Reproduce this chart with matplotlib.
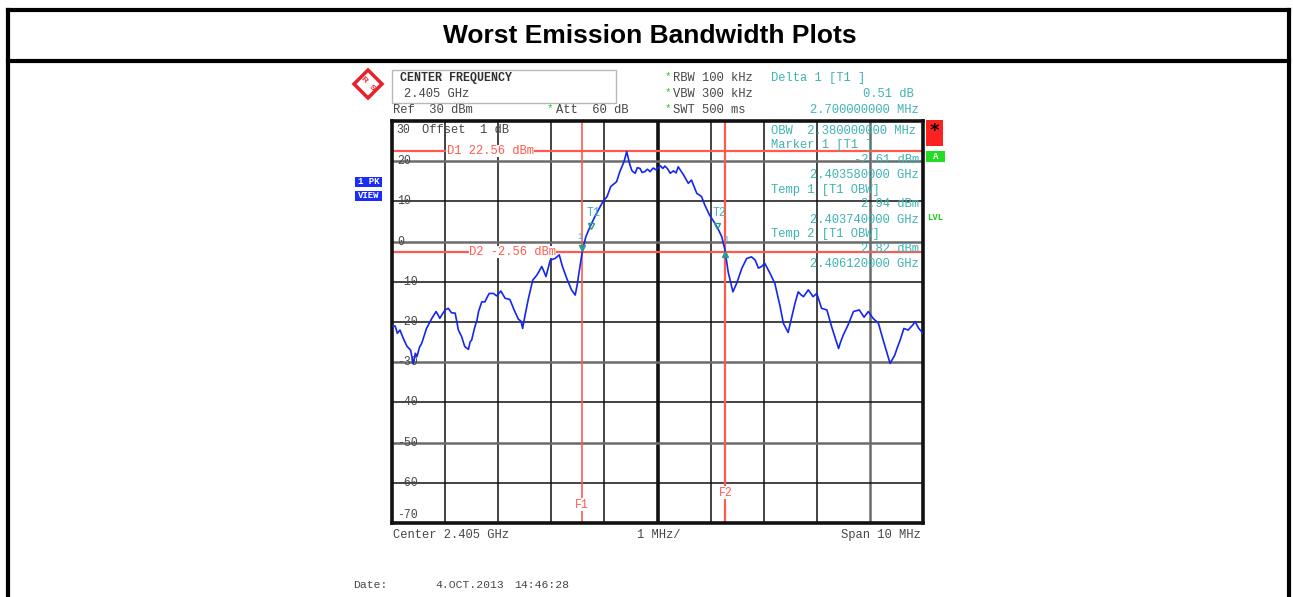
import matplotlib.pyplot as plt
from matplotlib.patches import Rectangle, Polygon
import numpy as np

W, H = 1293, 597

# trace (offset from 2.400 GHz in MHz, level in dBm)
freq_offset = [0.00, 0.06, 0.10, 0.15, 0.21, 0.28, 0.35, 0.40, 0.44, 0.47, 0.52, 0.56, 0.65, 0.75, 0.83,
               0.87, 0.90, 0.95, 1.00, 1.06, 1.12, 1.19, 1.25, 1.31, 1.37, 1.44, 1.47, 1.50, 1.56,
               1.60, 1.63, 1.69, 1.75, 1.79, 1.83, 1.91, 1.97, 2.05, 2.13, 2.22, 2.30, 2.38, 2.43,
               2.46, 2.50, 2.57, 2.65, 2.73, 2.82, 2.86, 2.90, 2.98, 3.07, 3.15, 3.21, 3.29, 3.38,
               3.45, 3.49, 3.51, 3.55, 3.59, 3.65, 3.73, 3.82, 3.89, 3.97, 4.05, 4.12, 4.23, 4.29,
               4.37, 4.42, 4.48, 4.52, 4.58, 4.62, 4.67, 4.71, 4.76, 4.81, 4.86, 4.92, 4.98, 5.05,
               5.10, 5.14, 5.19, 5.24, 5.30, 5.35, 5.39, 5.49, 5.58, 5.64, 5.74, 5.83, 5.89, 5.98,
               6.06, 6.15, 6.21, 6.27, 6.33, 6.42, 6.49, 6.59, 6.68, 6.77, 6.84, 6.90, 6.96, 7.02,
               7.12, 7.21, 7.31, 7.37, 7.46, 7.53, 7.59, 7.65, 7.70, 7.75, 7.84, 7.93, 8.00, 8.09,
               8.19, 8.28, 8.41, 8.45, 8.50, 8.59, 8.69, 8.80, 8.89, 8.97, 9.06, 9.16, 9.25, 9.38,
               9.47, 9.51, 9.57, 9.64, 9.72, 9.81, 9.85, 9.92, 10.00]
level_dbm = [-21.0, -21.0, -22.8, -22.0, -24.0, -26.0, -27.0, -30.3, -27.8, -28.6, -26.2, -25.3, -21.6, -19.1, -17.4,
             -18.3, -19.1, -18.0, -17.0, -16.6, -17.7, -17.8, -22.0, -23.6, -26.1, -26.8, -25.0, -24.5, -21.2,
             -19.6, -17.4, -15.0, -15.0, -13.9, -12.9, -12.9, -13.5, -12.3, -14.1, -14.4, -17.0, -19.3, -19.8,
             -21.6, -18.7, -14.1, -9.6, -8.3, -6.2, -7.4, -8.7, -4.6, -4.2, -3.3, -6.2, -9.1, -12.0,
             -13.3, -10.6, -8.7, -5.4, -2.0, 1.2, 3.7, 6.2, 7.9, 9.9, 11.2, 13.7, 14.9, 17.4,
             19.9, 22.4, 19.1, 17.6, 17.0, 18.4, 18.2, 17.2, 17.4, 18.0, 17.4, 18.3, 17.8, 18.9,
             18.2, 18.8, 18.1, 17.0, 17.6, 17.1, 18.6, 16.6, 14.5, 15.3, 12.0, 11.2, 9.1, 6.6,
             5.0, 2.9, 1.2, -2.0, -7.5, -12.5, -10.4, -6.6, -4.2, -3.8, -4.6, -6.6, -6.2, -5.4,
             -7.9, -10.4, -16.2, -20.3, -22.6, -18.7, -15.3, -12.5, -13.2, -13.7, -12.0, -13.7, -12.9, -16.6,
             -17.0, -21.2, -26.6, -24.9, -23.2, -20.7, -17.4, -17.0, -18.8, -17.4, -19.1, -20.3, -24.5, -30.3,
             -28.2, -26.6, -24.5, -21.6, -22.0, -20.7, -19.9, -21.6, -22.8]

start_mhz = 2400.0
span_mhz = 10.0
ref_level = 30
y_grid = [20, 10, 0, -10, -20, -30, -40, -50, -60]
y_labels = ["30", "20", "10", "0", "-10", "-20", "-30", "-40", "-50", "-60", "-70"]
y_label_pos = [27.8, 20, 10, 0, -10, -20, -30, -40, -50, -60, -68]
d1_level, d2_level = 22.56, -2.56
f1_mhz, f2_mhz = 2403.58, 2406.28
marker_f = [2403.58, 2403.74, 2406.12, 2406.28]
marker_lv = [-2.61, 2.94, 2.82, -2.6]

mono = "Liberation Mono"
teal = "#3fb3b3"
red_ln = "#ff5a50"
grey_tx = "#474747"

fig = plt.figure(figsize=(W / 100, H / 100), dpi=100)
fig.patch.set_facecolor("white")

# spectrum screen
ax = fig.add_axes([392 / W, (H - 523) / H, 531 / W, 402 / H])
x = start_mhz + np.array(freq_offset)
ax.set_xlim(start_mhz, start_mhz + span_mhz)
ax.set_ylim(-70, ref_level)
ax.set_xticks([])
ax.set_yticks([])
for s in ax.spines.values():
    s.set_linewidth(2.6)
    s.set_color("#111111")

for i, g in enumerate(np.arange(1, 10) + start_mhz):
    if i == 4:
        ax.axvline(g, color="#111111", lw=2.6, zorder=1)
    elif i == 8:
        ax.axvline(g, color="#6b6b6b", lw=1.8, zorder=1)
    else:
        ax.axvline(g, color="#111111", lw=1.1, zorder=1)
for g in y_grid:
    if g in (20, 0, -30, -50):
        ax.axhline(g, color="#6b6b6b", lw=1.8, zorder=1)
    else:
        ax.axhline(g, color="#111111", lw=1.1, zorder=1)

for lab, yp in zip(y_labels, y_label_pos):
    ax.text(start_mhz + 0.09, yp, lab, family=mono, fontsize=8.3, color=grey_tx,
            va="center", ha="left", zorder=3)
ax.text(start_mhz + 0.57, 27.8, "Offset  1 dB", family=mono, fontsize=8.7, color=grey_tx,
        va="center", ha="left", zorder=3)

# display lines and frequency lines
ax.axhline(d1_level, color=red_ln, lw=1.6, zorder=2)
ax.axhline(d2_level, color=red_ln, lw=1.6, zorder=2)
ax.axvline(f1_mhz, color=red_ln, lw=1.2, zorder=2)
ax.axvline(f2_mhz, color=red_ln, lw=1.6, zorder=2)
wb = dict(facecolor="white", edgecolor="none", pad=0.3)
ax.text(2401.03, d1_level, "D1 22.56 dBm", family=mono, fontsize=8.7, color=red_ln,
        va="center", ha="left", bbox=wb, zorder=3)
ax.text(2401.45, d2_level, "D2 -2.56 dBm", family=mono, fontsize=8.7, color=red_ln,
        va="center", ha="left", bbox=wb, zorder=3)
ax.text(f1_mhz, -65.4, "F1", family=mono, fontsize=8.3, color=red_ln,
        va="center", ha="center", bbox=wb, zorder=3)
ax.text(f2_mhz, -62.5, "F2", family=mono, fontsize=8.3, color=red_ln,
        va="center", ha="center", bbox=wb, zorder=3)

ax.plot(x, level_dbm, color="#1426f0", lw=1.2, zorder=4)

# markers
ax.plot(marker_f[0], marker_lv[0] + 1.0, marker="v", ms=5, color="#2f9a8c", zorder=5)
ax.text(marker_f[0] - 0.03, marker_lv[0] + 3.2, "1", family=mono, fontsize=6.5, color=teal, ha="center", zorder=5)
ax.plot(marker_f[1], marker_lv[1] + 1.0, marker="v", ms=5, mfc="none", mec="#2f9a8c", zorder=5)
ax.text(marker_f[1] + 0.05, marker_lv[1] + 3.5, "T1", family=mono, fontsize=8.3, color=teal, ha="center", zorder=5)
ax.plot(marker_f[2], marker_lv[2] + 1.0, marker="v", ms=5, mfc="none", mec="#2f9a8c", zorder=5)
ax.text(marker_f[2] + 0.05, marker_lv[2] + 3.5, "T2", family=mono, fontsize=8.3, color=teal, ha="center", zorder=5)
ax.plot(marker_f[3], marker_lv[3] - 0.4, marker="^", ms=5, color="#2f9a8c", zorder=5)
ax.text(marker_f[3] + 0.02, marker_lv[3] + 2.6, "1", family=mono, fontsize=6.5, color=teal, ha="center", zorder=5)

# overlay in pixel coordinates for the page decorations
ov = fig.add_axes([0, 0, 1, 1])
ov.set_xlim(0, W)
ov.set_ylim(H, 0)
ov.axis("off")
ov.patch.set_alpha(0)

# page frame and title
ov.plot([8, 1289], [10, 10], color="black", lw=3, solid_capstyle="projecting")
ov.plot([8, 1289], [61, 61], color="black", lw=3)
ov.plot([8, 8], [10, H], color="black", lw=3)
ov.plot([1289, 1289], [10, H], color="black", lw=3)
ov.text(650, 36, "Worst Emission Bandwidth Plots", family="Liberation Sans", fontweight="bold",
        fontsize=19, ha="center", va="center")

# R&S logo
ov.add_patch(Polygon([[368, 70], [382, 84], [368, 98], [354, 84]], closed=True,
                     facecolor="white", edgecolor="#e8202a", lw=2.5))
ov.text(364, 80, "R", family="Liberation Sans", fontweight="bold", fontsize=6, color="#e8202a",
        ha="center", va="center", rotation=-45)
ov.text(372, 88, "S", family="Liberation Sans", fontweight="bold", fontsize=6, color="#e8202a",
        ha="center", va="center", rotation=-45)

# header box
ov.add_patch(Rectangle((392, 70), 224, 33, facecolor="white", edgecolor="#b8b8b8", lw=1))
ov.text(400, 78, "CENTER FREQUENCY", family=mono, fontweight="bold", fontsize=8.4, color="#303030", va="center")
ov.text(404, 94, "2.405 GHz", family=mono, fontsize=8.7, color=grey_tx, va="center")
ov.text(393, 110, "Ref  30 dBm", family=mono, fontsize=8.7, color=grey_tx, va="center")
ov.text(550, 108, "*", family=mono, fontsize=8, color="#22cc22", va="center", ha="center")
ov.text(556, 110, "Att  60 dB", family=mono, fontsize=8.7, color=grey_tx, va="center")
for yy, t in zip([78, 94, 110], ["RBW 100 kHz", "VBW 300 kHz", "SWT 500 ms"]):
    ov.text(668, yy - 2, "*", family=mono, fontsize=8, color="#22cc22", va="center", ha="center")
    ov.text(673, yy, t, family=mono, fontsize=8.7, color=grey_tx, va="center")
ov.text(771, 78, "Delta 1 [T1 ]", family=mono, fontsize=8.7, color=teal, va="center")
ov.text(914, 94, "0.51 dB", family=mono, fontsize=8.7, color=teal, va="center", ha="right")
ov.text(919, 110, "2.700000000 MHz", family=mono, fontsize=8.7, color=teal, va="center", ha="right")

# marker table inside the screen
left_rows = [(131, "OBW  2.380000000 MHz"), (145, "Marker 1 [T1 ]"), (190, "Temp 1 [T1 OBW]"),
             (234, "Temp 2 [T1 OBW]")]
right_rows = [(160, "-2.61 dBm"), (175, "2.403580000 GHz"), (204, "2.94 dBm"),
              (220, "2.403740000 GHz"), (249, "2.82 dBm"), (264, "2.406120000 GHz")]
for yy, t in left_rows:
    ov.text(771, yy, t, family=mono, fontsize=8.7, color=teal, va="center")
for yy, t in right_rows:
    ov.text(919, yy, t, family=mono, fontsize=8.7, color=teal, va="center", ha="right")

# side indicators
ov.add_patch(Rectangle((926, 120), 17, 26, facecolor="#ff2020", edgecolor="none"))
ov.text(934.5, 131, "*", family="DejaVu Sans", fontweight="bold", fontsize=13, color="black",
        ha="center", va="center")
ov.add_patch(Rectangle((926, 151), 19, 11, facecolor="#22dd22", edgecolor="none"))
ov.text(935.5, 156.5, "A", family=mono, fontweight="bold", fontsize=6.5, color="white", ha="center", va="center")
ov.text(927, 218, "LVL", family=mono, fontweight="bold", fontsize=6.5, color="#22cc22", va="center")
ov.add_patch(Rectangle((355, 177), 27, 10, facecolor="#1a2cf5", edgecolor="none"))
ov.text(368.5, 182, "1 PK", family=mono, fontweight="bold", fontsize=6.5, color="white", ha="center", va="center")
ov.add_patch(Rectangle((355, 191), 27, 10, facecolor="#1a2cf5", edgecolor="none"))
ov.text(368.5, 196, "VIEW", family=mono, fontweight="bold", fontsize=6.5, color="white", ha="center", va="center")

# footer
ov.text(393, 535, "Center 2.405 GHz", family=mono, fontsize=8.7, color=grey_tx, va="center")
ov.text(637, 535, "1 MHz/", family=mono, fontsize=8.7, color=grey_tx, va="center")
ov.text(921, 535, "Span 10 MHz", family=mono, fontsize=8.7, color=grey_tx, va="center", ha="right")
ov.text(353, 585, "Date:", family=mono, fontsize=8.2, color=grey_tx, va="center")
ov.text(435, 585, "4.OCT.2013", family=mono, fontsize=8.2, color=grey_tx, va="center")
ov.text(514, 585, "14:46:28", family=mono, fontsize=8.2, color=grey_tx, va="center")

fig.savefig("out.png", dpi=100)
